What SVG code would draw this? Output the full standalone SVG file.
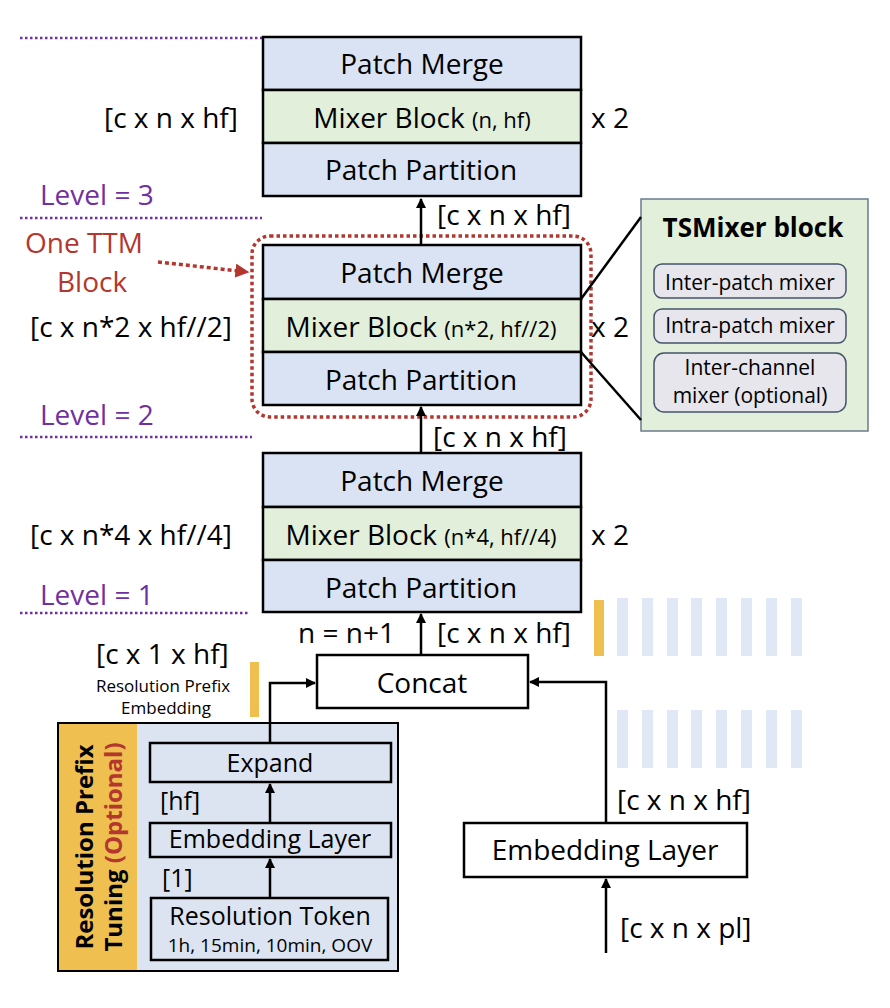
<svg xmlns="http://www.w3.org/2000/svg" width="890" height="1008" viewBox="0 0 890 1008">
<defs>
<style>
text{font-family:"Open Sans","Liberation Sans",sans-serif;fill:#000}
.m{font-size:28px;text-anchor:middle}
.s{font-size:22px}
.l{font-size:28px}
.lv{font-size:28px;fill:#7030a0}
.red{fill:#b3372e}
.blue{fill:#dae3f3}
.green{fill:#e2efda}
.box{stroke:#000;stroke-width:2.5}
.pd{stroke:#7030a0;stroke-width:2.5;stroke-dasharray:2.5 2.5;fill:none}
.conn{stroke:#000;stroke-width:2.5;fill:none}
.bar{fill:#dae3f3;opacity:0.85}
.ib{fill:#e6e6ec;stroke:#44546a;stroke-width:1.5}
.it{font-size:21px;text-anchor:middle}
.lb{font-size:25px;text-anchor:middle}
.ls{font-size:25px}
.rot{font-size:24px;font-weight:bold;text-anchor:middle}
</style>
<marker id="ah" viewBox="0 0 10 10" refX="9" refY="5" markerWidth="4" markerHeight="4" orient="auto"><path d="M0,0 L10,5 L0,10 z" fill="#000"/></marker>
<marker id="rah" viewBox="0 0 10 10" refX="9" refY="5" markerWidth="4" markerHeight="4" orient="auto"><path d="M0,0 L10,5 L0,10 z" fill="#b3372e"/></marker>
</defs>
<rect width="890" height="1008" fill="#fff"/>

<!-- level dotted lines -->
<g id="levels">
<line class="pd" x1="20" y1="38" x2="262" y2="38"/>
<line class="pd" x1="20" y1="218" x2="262" y2="218"/>
<line class="pd" x1="20" y1="437" x2="252" y2="437"/>
<line class="pd" x1="20" y1="613" x2="250" y2="613"/>
<text class="lv" x="40" y="205">Level = 3</text>
<text class="lv" x="40" y="425">Level = 2</text>
<text class="lv" x="40" y="605">Level = 1</text>
</g>

<!-- Level 3 block -->
<g id="block3">
<rect class="blue box" x="263" y="37" width="318" height="53"/>
<rect class="green box" x="263" y="90" width="318" height="53"/>
<rect class="blue box" x="263" y="143" width="318" height="53"/>
<text class="m" x="422" y="74">Patch Merge</text>
<text class="m" x="422" y="128">Mixer Block <tspan class="s">(n, hf)</tspan></text>
<text class="m" x="421" y="180">Patch Partition</text>
<text class="l" x="104" y="128">[c x n x hf]</text>
<text class="l" x="591" y="128">x 2</text>
</g>

<!-- Level 2 block -->
<g id="block2">
<rect class="blue box" x="263" y="245" width="318" height="54"/>
<rect class="green box" x="263" y="299" width="318" height="53"/>
<rect class="blue box" x="263" y="352" width="318" height="53"/>
<text class="m" x="422" y="283">Patch Merge</text>
<text class="m" x="421" y="337">Mixer Block <tspan class="s">(n*2, hf//2)</tspan></text>
<text class="m" x="421" y="390">Patch Partition</text>
<text class="l" x="30" y="337">[c x n*2 x hf//2]</text>
<text class="l" x="591" y="337">x 2</text>
</g>

<!-- Level 1 block -->
<g id="block1">
<rect class="blue box" x="263" y="453" width="318" height="54"/>
<rect class="green box" x="263" y="507" width="318" height="53"/>
<rect class="blue box" x="263" y="560" width="318" height="52"/>
<text class="m" x="422" y="491">Patch Merge</text>
<text class="m" x="421" y="545">Mixer Block <tspan class="s">(n*4, hf//4)</tspan></text>
<text class="m" x="421" y="598">Patch Partition</text>
<text class="l" x="30" y="545">[c x n*4 x hf//4]</text>
<text class="l" x="591" y="545">x 2</text>
</g>

<!-- One TTM block annotation -->
<g id="ttm">
<rect x="252" y="236" width="339" height="181" rx="18" fill="none" stroke="#b3372e" stroke-width="3.5" stroke-dasharray="3.5 3"/>
<text class="l red" x="25" y="253">One TTM</text>
<text class="l red" x="57" y="292">Block</text>
<line x1="158" y1="262" x2="248" y2="272" stroke="#b3372e" stroke-width="3.5" stroke-dasharray="4 3" marker-end="url(#rah)"/>
</g>

<!-- TSMixer block -->
<g id="tsmixer">
<rect x="641" y="199" width="227" height="232" fill="#e2efda" stroke="#6b7b8c" stroke-width="1.5"/>
<text x="753" y="237" font-size="26" font-weight="bold" text-anchor="middle">TSMixer block</text>
<rect class="ib" x="654" y="264" width="192" height="34" rx="8"/>
<text class="it" x="750" y="290">Inter-patch mixer</text>
<rect class="ib" x="654" y="309" width="192" height="34" rx="8"/>
<text class="it" x="750" y="333">Intra-patch mixer</text>
<rect class="ib" x="654" y="353" width="192" height="59" rx="10"/>
<text class="it" x="750" y="375">Inter-channel</text>
<text class="it" x="750" y="403">mixer (optional)</text>
</g>

<!-- Concat -->
<g id="concat">
<rect x="317" y="655" width="211" height="53" fill="#fff" class="box"/>
<text class="m" x="422" y="693">Concat</text>
</g>

<!-- Embedding layer right -->
<g id="embed">
<rect x="464" y="823" width="283" height="54" fill="#fff" class="box"/>
<text class="m" x="605" y="860">Embedding Layer</text>
</g>

<!-- bars -->
<g id="bars">
<rect x="594" y="600" width="10" height="56" fill="#efc050"/>
<rect class="bar" x="617" y="598" width="11" height="58"/>
<rect class="bar" x="642" y="598" width="11" height="58"/>
<rect class="bar" x="667" y="598" width="11" height="58"/>
<rect class="bar" x="691" y="598" width="11" height="58"/>
<rect class="bar" x="716" y="598" width="11" height="58"/>
<rect class="bar" x="741" y="598" width="11" height="58"/>
<rect class="bar" x="766" y="598" width="11" height="58"/>
<rect class="bar" x="791" y="598" width="11" height="58"/>
<rect class="bar" x="617" y="710" width="11" height="58"/>
<rect class="bar" x="642" y="710" width="11" height="58"/>
<rect class="bar" x="667" y="710" width="11" height="58"/>
<rect class="bar" x="691" y="710" width="11" height="58"/>
<rect class="bar" x="716" y="710" width="11" height="58"/>
<rect class="bar" x="741" y="710" width="11" height="58"/>
<rect class="bar" x="766" y="710" width="11" height="58"/>
<rect class="bar" x="791" y="710" width="11" height="58"/>
<rect x="250" y="662" width="9" height="55" fill="#efc050"/>
</g>

<!-- Resolution prefix tuning -->
<g id="resprefix">
<rect x="58" y="723" width="340" height="248" fill="#dce4f1" stroke="#000" stroke-width="2"/>
<rect x="59" y="724" width="78" height="246" fill="#efc050"/>
<text class="rot" transform="translate(93,847) rotate(-90)">Resolution Prefix</text>
<text class="rot" transform="translate(122,847) rotate(-90)">Tuning <tspan fill="#b3372e">(Optional)</tspan></text>
</g>
<g id="expand">
<rect x="150" y="743" width="241" height="39" fill="#dce4f1" class="box"/>
<text class="lb" x="270" y="772">Expand</text>
</g>
<g id="embed2">
<rect x="150" y="823" width="241" height="34" fill="#dce4f1" class="box"/>
<text class="lb" x="270" y="848">Embedding Layer</text>
</g>
<g id="restoken">
<rect x="151" y="898" width="237" height="62" fill="#dce4f1" class="box"/>
<text class="lb" x="270" y="925">Resolution Token</text>
<text x="270" y="952" font-size="19" text-anchor="middle">1h, 15min, 10min, OOV</text>
</g>
<g id="prefixlabel">
<text class="l" x="96" y="664">[c x 1 x hf]</text>
<text x="163" y="692" font-size="17" text-anchor="middle">Resolution Prefix</text>
<text x="166" y="714" font-size="17" text-anchor="middle">Embedding</text>
</g>

<!-- connectors -->
<g id="connectors">
<line class="conn" x1="421" y1="245" x2="421" y2="199" marker-end="url(#ah)"/>
<line class="conn" x1="421" y1="453" x2="421" y2="407" marker-end="url(#ah)"/>
<line class="conn" x1="421" y1="655" x2="421" y2="614" marker-end="url(#ah)"/>
<polyline class="conn" points="606,823 606,682 530,682" marker-end="url(#ah)"/>
<line class="conn" x1="606" y1="953" x2="606" y2="879" marker-end="url(#ah)"/>
<polyline class="conn" points="270,743 270,683 315,683" marker-end="url(#ah)"/>
<line class="conn" x1="270" y1="823" x2="270" y2="784" marker-end="url(#ah)"/>
<line class="conn" x1="270" y1="898" x2="270" y2="859" marker-end="url(#ah)"/>
<line class="conn" x1="581" y1="299" x2="641" y2="217"/>
<line class="conn" x1="581" y1="352" x2="641" y2="420"/>
<text class="l" x="437" y="225">[c x n x hf]</text>
<text class="l" x="433" y="447">[c x n x hf]</text>
<text class="l" x="437" y="643">[c x n x hf]</text>
<text class="l" x="298" y="643">n = n+1</text>
<text class="l" x="617" y="810">[c x n x hf]</text>
<text class="l" x="620" y="938">[c x n x pl]</text>
<text class="ls" x="160" y="810">[hf]</text>
<text class="ls" x="162" y="887">[1]</text>
</g>
</svg>
